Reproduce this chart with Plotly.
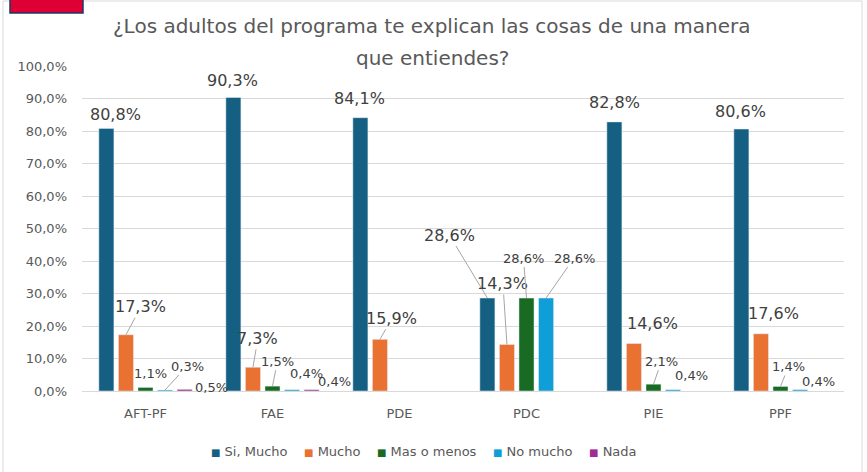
import plotly.graph_objects as go

# ---------------- data ----------------
categories = ["AFT-PF", "FAE", "PDE", "PDC", "PIE", "PPF"]
series_names = ["Si, Mucho", "Mucho", "Mas o menos", "No mucho", "Nada"]
si_mucho = [80.8, 90.3, 84.1, 28.6, 82.8, 80.6]
mucho = [17.3, 7.3, 15.9, 14.3, 14.6, 17.6]
mas_o_menos = [1.1, 1.5, None, 28.6, 2.1, 1.4]
no_mucho = [0.3, 0.4, None, 28.6, 0.4, 0.4]
nada = [0.5, 0.4, None, None, None, None]
y_tick_values = [0, 10, 20, 30, 40, 50, 60, 70, 80, 90, 100]
title_lines = ["¿Los adultos del programa te explican las cosas de una manera", "que entiendes?"]

series_values = [si_mucho, mucho, mas_o_menos, no_mucho, nada]
colors = ["#156082", "#E97132", "#196B24", "#0F9ED5", "#A02B93"]

# ---------------- style: label placement (pixel offsets from bar top, leader flag) ----------------
label_offsets = {
    (0, 0): (9, -14, False), (1, 0): (15, -28, True), (2, 0): (5, -14, False), (3, 0): (22, -24, True), (4, 0): (27, -2, False),
    (0, 1): (-1, -17, False), (1, 1): (5, -29, True), (2, 1): (5, -25, True), (3, 1): (14, -16, False), (4, 1): (23, -8, False),
    (0, 2): (-1, -19, False), (1, 2): (12, -21, True),
    (0, 3): (-38, -63, True), (1, 3): (-4, -61, True), (2, 3): (-3, -40, True), (3, 3): (28, -40, True),
    (0, 4): (0, -19, False), (1, 4): (19, -20, False), (2, 4): (8, -23, True), (3, 4): (18, -14, False),
    (0, 5): (-1, -18, False), (1, 5): (13, -20, False), (2, 5): (8, -20, True), (3, 5): (18, -8, False),
}
big_label_series = {0, 1}

W, H = 867, 472
# plot area in screen pixels
PX0, PX1, PY0, PY1 = 82, 844, 66, 391
ML, MR, MT, MB = PX0, W - PX1, PY0, H - PY1
PW, PH = PX1 - PX0, PY1 - PY0
BARGAP, BARGROUPGAP = 0.23, 0.23
FONT = "DejaVu Sans"

def px_x(p):
    return (p - PX0) / PW

def px_y(p):
    return (PY1 - p) / PH

def fmt(v):
    return f"{v:.1f}".replace(".", ",") + "%"

fig = go.Figure()
for name, vals, col in zip(series_names, series_values, colors):
    fig.add_trace(go.Bar(x=categories, y=vals, name=name, marker_color=col,
                         showlegend=False, hovertemplate="%{x}: %{y:.1f}%<extra>" + name + "</extra>"))

cat_px = PW / len(categories)
slot = cat_px * (1 - BARGAP) / len(series_names)
annotations = []
for si, vals in enumerate(series_values):
    shift = (si - (len(series_names) - 1) / 2) * slot
    for ci, v in enumerate(vals):
        if v is None:
            continue
        dx, dy, leader = label_offsets[(si, ci)]
        size = 16 if si in big_label_series else 13
        font = dict(family=FONT, size=size, color="#404040")
        if leader:
            annotations.append(dict(x=categories[ci], y=v, xshift=shift, ax=dx, ay=dy,
                                    text=fmt(v), showarrow=True, arrowhead=0, arrowwidth=1,
                                    arrowcolor="#A6A6A6", standoff=0, font=font))
        else:
            annotations.append(dict(x=categories[ci], y=v, xshift=shift + dx, yshift=-dy,
                                    text=fmt(v), showarrow=False, font=font,
                                    xanchor="center", yanchor="middle"))

# title (two lines, Excel-like spacing)
annotations.append(dict(xref="paper", yref="paper", x=px_x(432), y=px_y(26), text=title_lines[0],
                        showarrow=False, xanchor="center", yanchor="middle",
                        font=dict(family=FONT, size=20, color="#595959")))
annotations.append(dict(xref="paper", yref="paper", x=px_x(432), y=px_y(58), text=title_lines[1],
                        showarrow=False, xanchor="center", yanchor="middle",
                        font=dict(family=FONT, size=20, color="#595959")))

# custom legend
sep = "\u00a0" * 4
legend_text = sep.join(
    f'<span style="color:{c};font-size:10px">■</span>\u00a0{n}' for n, c in zip(series_names, colors))
annotations.append(dict(xref="paper", yref="paper", x=px_x(424), y=px_y(451), text=legend_text,
                        showarrow=False, xanchor="center", yanchor="middle",
                        font=dict(family=FONT, size=13, color="#595959")))

shapes = [
    dict(type="rect", xref="paper", yref="paper", x0=px_x(3), x1=px_x(862), y0=px_y(476), y1=px_y(1),
         line=dict(color="#D9D9D9", width=1), fillcolor="rgba(0,0,0,0)", layer="below"),
    dict(type="rect", xref="paper", yref="paper", x0=px_x(10), x1=px_x(83), y0=px_y(13), y1=px_y(-2),
         line=dict(color="#1F3864", width=1.5), fillcolor="#DE0034"),
]

fig.update_layout(
    width=W, height=H, autosize=False,
    margin=dict(l=ML, r=MR, t=MT, b=MB, autoexpand=False),
    paper_bgcolor="white", plot_bgcolor="white",
    separators=",.",
    barmode="group", bargap=BARGAP, bargroupgap=BARGROUPGAP,
    showlegend=False,
    font=dict(family=FONT, color="#595959"),
    annotations=annotations,
    shapes=shapes,
)
fig.update_xaxes(type="category", showline=True, linecolor="#D9D9D9", linewidth=1, ticks="",
                 tickfont=dict(family=FONT, size=13, color="#595959"), ticklabelstandoff=10,
                 automargin=False)
fig.update_yaxes(range=[0, 100], tickvals=y_tick_values, ticktext=[fmt(v) for v in y_tick_values],
                 showgrid=True, gridcolor="#D9D9D9", gridwidth=1, zeroline=False, showline=False,
                 tickfont=dict(family=FONT, size=13, color="#595959"), ticks="", ticklabelstandoff=14,
                 automargin=False)

fig.write_html("out.html", config={"displayModeBar": False},
               post_script="document.body.style.margin='0px';")
